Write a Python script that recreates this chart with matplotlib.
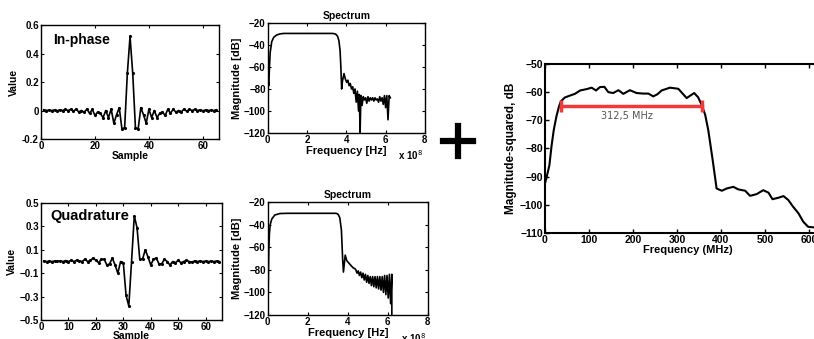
import numpy as np
import matplotlib.pyplot as plt
from matplotlib.lines import Line2D

plt.rcParams['font.family'] = ['Liberation Sans', 'DejaVu Sans']

# ---- data ----
samples = np.arange(1, 66)

in_phase = [0.005, 0.0, 0.003, 0.0, 0.004, -0.002, 0.005, 0.0, 0.008, 0.0,
            0.008, -0.005, 0.01, -0.01, 0.0, -0.012, 0.01, -0.02, 0.008, -0.035,
            -0.01, -0.02, -0.05, 0.0, -0.05, 0.01, -0.09, -0.03, 0.02, -0.13,
            -0.12, 0.26, 0.52, 0.26, -0.12, -0.13, 0.02, -0.03, -0.09, 0.01,
            -0.05, 0.0, -0.05, -0.02, -0.01, -0.035, 0.008, -0.02, 0.01, -0.012,
            0.0, -0.01, 0.01, -0.005, 0.008, 0.0, 0.008, 0.0, 0.005, -0.002,
            0.004, 0.0, 0.003, 0.0, 0.005]

quadrature = [0.005, 0.0, 0.003, 0.0, 0.005, 0.002, 0.006, 0.0, 0.008, 0.0,
              0.01, 0.0, 0.012, 0.005, 0.0, 0.02, 0.0, 0.01, 0.03, 0.01,
              -0.01, 0.02, 0.02, -0.03, -0.02, 0.03, -0.03, -0.1, 0.0, -0.01,
              -0.29, -0.38, 0.0, 0.39, 0.29, 0.02, 0.02, 0.1, 0.04, -0.03,
              0.02, 0.03, -0.02, -0.02, 0.02, 0.0, -0.03, 0.0, -0.01, 0.01,
              -0.01, 0.0, 0.01, 0.0, -0.005, 0.005, 0.0, 0.005, 0.0, 0.004,
              0.0, 0.003, 0.0, 0.004, 0.0]

# spectrum of in-phase (x in units of 1e8 Hz)
spec1_f = [0.0, 0.05, 0.08, 0.12, 0.2, 0.3, 0.45, 0.6, 0.8, 1.5, 2.5, 3.3, 3.45, 3.55,
           3.62, 3.68, 3.72, 3.76, 3.8, 3.88, 3.95, 4.02, 4.08, 4.14, 4.2, 4.26,
           4.32, 4.38, 4.44, 4.5, 4.56, 4.62, 4.66, 4.7, 4.74, 4.8, 4.86, 4.92,
           4.98, 5.04, 5.1, 5.16, 5.22, 5.28, 5.34, 5.4, 5.46, 5.52, 5.58, 5.64,
           5.7, 5.76, 5.82, 5.88, 5.94, 6.0, 6.06, 6.12, 6.18, 6.24]
spec1_db = [-69, -77, -62, -47, -37, -33, -31, -30, -29.5, -29.5, -29.5, -29.5, -30, -32,
            -36, -45, -60, -80, -73, -66, -71, -74, -72, -77, -75, -80, -78, -84,
            -80, -92, -82, -100, -85, -120, -86, -95, -87, -90, -88, -93, -87,
            -91, -88, -90, -88, -91, -88, -90, -89, -92, -87, -91, -88, -94,
            -86, -97, -86, -108, -86, -88]

# spectrum of quadrature
spec2_f = [0.0, 0.02, 0.05, 0.08, 0.12, 0.2, 0.35, 0.6, 1.0, 2.0, 3.0, 3.42, 3.52, 3.6,
           3.68, 3.74, 3.78, 3.87, 3.95, 4.05, 4.15, 4.25, 4.35, 4.4, 4.46, 4.52,
           4.58, 4.64, 4.7, 4.76, 4.82, 4.88, 4.94, 5.0, 5.06, 5.12, 5.18, 5.24,
           5.3, 5.36, 5.42, 5.48, 5.54, 5.6, 5.66, 5.72, 5.78, 5.84, 5.9, 5.96,
           6.02, 6.08, 6.14, 6.2, 6.2]
spec2_db = [-120, -95, -62, -48, -40, -35, -31.5, -30.2, -30, -30, -30, -30, -31, -34,
            -45, -70, -82, -67, -72, -74, -76, -78, -79, -80, -83, -81, -85, -82,
            -87, -83, -89, -84, -91, -85, -92, -86, -94, -86, -95, -86, -96, -86,
            -97, -86, -98, -86, -100, -85, -102, -85, -105, -84, -110, -84, -120]

# measured spectrum (right)
meas_f = [0, 4, 10, 15, 20, 26, 32, 36, 45, 57, 68, 80, 95, 106, 116, 125, 135, 144,
          155, 167, 178, 193, 208, 223, 235, 246, 256, 265, 284, 303, 322, 339,
          348, 356, 364, 371, 381, 390, 402, 413, 428, 439, 455, 466, 481, 496,
          508, 517, 530, 542, 553, 564, 576, 587, 598, 610, 630, 650]
meas_db = [-92.4, -90, -86, -79, -73.4, -68.6, -65, -63.3, -61.9, -61.2, -60.6, -59.4,
           -58.9, -58.4, -59.4, -58.2, -58.1, -60, -60.3, -59.3, -60.6, -59.3, -60.3,
           -60.5, -60.5, -61.5, -60.7, -59.4, -58.4, -58.8, -62.1, -60.3, -61.8,
           -64.5, -68, -73.4, -84, -94.2, -95, -94.2, -93.6, -94.5, -95, -96.8,
           -96.2, -94.8, -95.7, -98, -97.5, -96.9, -98.3, -100.7, -103, -106,
           -107.8, -108, -108, -108]

bw_start, bw_end, bw_level = 36, 356, -65
bw_label = '312,5 MHz'

fig = plt.figure(figsize=(8.14, 3.39), dpi=100)


def matlab_style(ax, size=7):
    ax.tick_params(direction='in', top=True, right=True, labelsize=size,
                   length=2.5, width=0.8, pad=1.5)
    for lab in ax.get_xticklabels() + ax.get_yticklabels():
        lab.set_fontweight('bold')
    for s in ax.spines.values():
        s.set_linewidth(1.0)


# in-phase
ax1 = fig.add_axes([0.0504, 0.590, 0.2187, 0.336])
ax1.plot(samples, in_phase, color='black', lw=1.2, marker='.', ms=2.5)
ax1.set_xlim(0, 66)
ax1.set_ylim(-0.2, 0.6)
ax1.set_xticks([0, 20, 40, 60])
ax1.set_yticks([-0.2, 0, 0.2, 0.4, 0.6])
ax1.set_yticklabels(['-0.2', '0', '0.2', '0.4', '0.6'])
matlab_style(ax1)
ax1.set_xlabel('Sample', fontsize=7.5, fontweight='bold', labelpad=0)
ax1.set_ylabel('Value', fontsize=7.5, fontweight='bold', labelpad=2)
ax1.text(0.07, 0.93, 'In-phase', transform=ax1.transAxes, fontsize=10,
         fontweight='bold', va='top')

# quadrature
ax3 = fig.add_axes([0.0504, 0.056, 0.2224, 0.345])
ax3.plot(samples, quadrature, color='black', lw=1.2, marker='.', ms=2.5)
ax3.set_xlim(0, 66)
ax3.set_ylim(-0.5, 0.5)
ax3.set_xticks([0, 10, 20, 30, 40, 50, 60])
ax3.set_yticks([-0.5, -0.3, -0.1, 0.1, 0.3, 0.5])
matlab_style(ax3)
ax3.set_xlabel('Sample', fontsize=7.5, fontweight='bold', labelpad=-1)
ax3.set_ylabel('Value', fontsize=7.5, fontweight='bold', labelpad=2)
ax3.text(0.05, 0.95, 'Quadrature', transform=ax3.transAxes, fontsize=10.5,
         fontweight='bold', va='top')

# spectra
for rect, f, db in [([0.329, 0.6077, 0.193, 0.3245], spec1_f, spec1_db),
                    ([0.329, 0.0708, 0.1966, 0.3333], spec2_f, spec2_db)]:
    ax = fig.add_axes(rect)
    ax.plot(f, db, color='black', lw=1.2)
    ax.set_xlim(0, 8)
    ax.set_ylim(-120, -20)
    ax.set_xticks([0, 2, 4, 6, 8])
    ax.set_yticks([-120, -100, -80, -60, -40, -20])
    matlab_style(ax)
    ax.set_title('Spectrum', fontsize=7.5, fontweight='bold', pad=3)
    ax.set_xlabel('Frequency [Hz]', fontsize=8, fontweight='bold', labelpad=1)
    ax.set_ylabel('Magnitude [dB]', fontsize=8, fontweight='bold', labelpad=1)
    ax.text(0.99, -0.14, r'x 10$^{8}$', transform=ax.transAxes, fontsize=7,
            fontweight='bold', ha='right', va='top')

# plus sign
fig.add_artist(Line2D([443 / 814, 473 / 814], [1 - 141 / 339, 1 - 141 / 339],
                      color='black', lw=4.5))
fig.add_artist(Line2D([458 / 814, 458 / 814], [1 - 126 / 339, 1 - 156 / 339],
                      color='black', lw=4.5))

# measured spectrum
ax5 = fig.add_axes([0.6695, 0.3127, 0.3514, 0.4985])
ax5.plot(meas_f, meas_db, color='black', lw=1.5)
ax5.plot([bw_start, bw_end], [bw_level, bw_level], color='#f03a3a', lw=2.5,
         marker='|', ms=9, mew=2.5)
ax5.text((bw_start + bw_end) / 2 - 10, bw_level - 3.5, bw_label, fontsize=7,
         color='#555555', ha='center', va='center', family='DejaVu Sans')
ax5.set_xlim(0, 650)
ax5.set_ylim(-110, -50)
ax5.set_xticks([0, 100, 200, 300, 400, 500, 600])
ax5.set_yticks(np.arange(-110, -49, 10))
ax5.tick_params(direction='in', top=True, right=True, labelsize=7.5,
                length=3, width=1.0, pad=1.5)
for lab in ax5.get_xticklabels() + ax5.get_yticklabels():
    lab.set_fontweight('bold')
for s in ax5.spines.values():
    s.set_linewidth(1.5)
ax5.set_xlabel('Frequency (MHz)', fontsize=8, fontweight='bold', labelpad=0)
ax5.set_ylabel('Magnitude-squared, dB', fontsize=8.5, fontweight='bold', labelpad=2)

fig.savefig('out.png', dpi=100)
